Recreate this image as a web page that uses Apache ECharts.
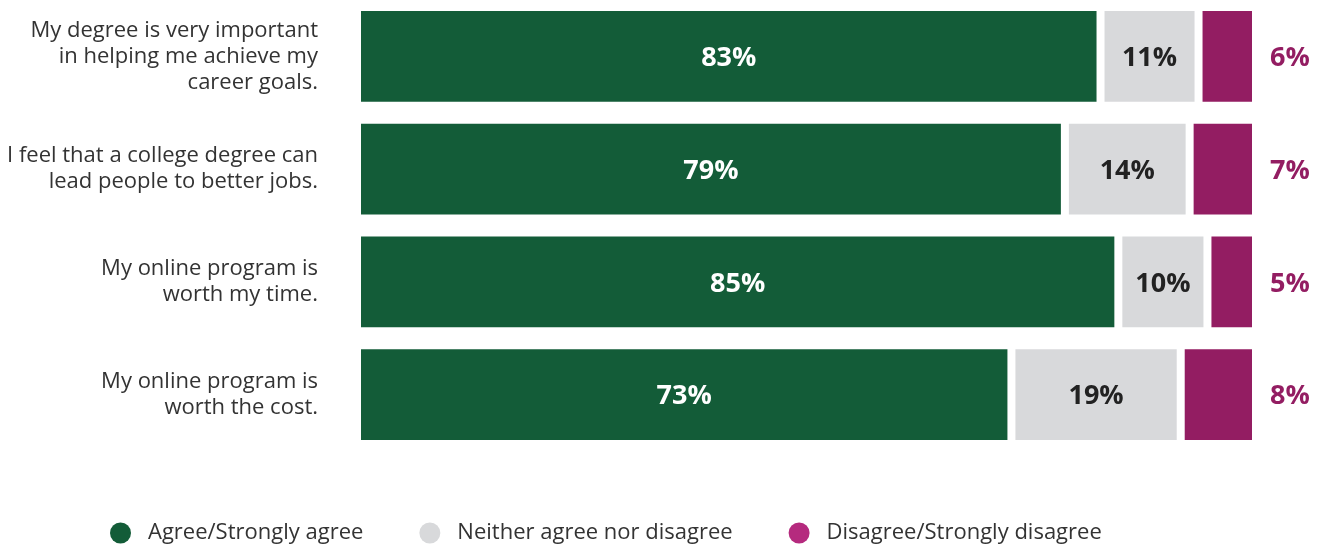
<!DOCTYPE html>
<html>
<head>
<meta charset="utf-8">
<title>Degree value survey</title>
<script src="https://cdn.jsdelivr.net/npm/echarts@6/dist/echarts.min.js"></script>
<style>
  html, body { margin: 0; padding: 0; background: #ffffff; }
  #chart { width: 1326px; height: 544px; }
</style>
</head>
<body>
<div id="chart"></div>
<script>
// Survey statements (top to bottom)
const categories = [
  'My degree is very important\nin helping me achieve my\ncareer goals.',
  'I feel that a college degree can\nlead people to better jobs.',
  'My online program is\nworth my time.',
  'My online program is\nworth the cost.'
];

// Response shares, percent
const agree = [83, 79, 85, 73];
const neither = [11, 14, 10, 19];
const disagree = [6, 7, 5, 8];

const seriesNames = ['Agree/Strongly agree', 'Neither agree nor disagree', 'Disagree/Strongly disagree'];

const barColors = ['#135c38', '#d8d9db', '#931d62'];
const legendColors = ['#135c38', '#d8d9db', '#b52a7e'];
const labelColors = ['#ffffff', '#222222', '#931d62'];

const FONT = '"Open Sans", "Noto Sans", sans-serif';
const GAP = 8;

const groups = [agree, neither, disagree];
// running start of each segment along the stack
const bases = groups.map((g, s) =>
  g.map((_, i) => groups.slice(0, s).reduce((acc, arr) => acc + arr[i], 0))
);

function makeSeries(s) {
  return {
    type: 'custom',
    name: seriesNames[s],
    itemStyle: { color: barColors[s] },
    encode: { x: [0, 1], y: 2 },
    data: groups[s].map((v, i) => [bases[s][i], v, i]),
    renderItem: function (params, api) {
      const base = api.value(0);
      const v = api.value(1);
      const ci = api.value(2);
      const p0 = api.coord([base, ci]);
      const p1 = api.coord([base + v, ci]);
      const band = api.size([0, 1])[1];
      const h = band * 91 / 113;
      const x0 = p0[0] + (s > 0 ? GAP / 2 : 0);
      const x1 = p1[0] - (s < groups.length - 1 ? GAP / 2 : 0);
      const y0 = p0[1] - h / 2;
      const outside = s === groups.length - 1;
      return {
        type: 'group',
        children: [
          {
            type: 'rect',
            shape: { x: x0, y: y0, width: x1 - x0, height: h },
            style: { fill: barColors[s] }
          },
          {
            type: 'text',
            style: {
              text: v + '%',
              x: outside ? p1[0] + 18 : (x0 + x1) / 2,
              y: p0[1] + 2,
              align: outside ? 'left' : 'center',
              verticalAlign: 'middle',
              fill: labelColors[s],
              font: 'bold 27px ' + FONT
            }
          }
        ]
      };
    }
  };
}

const chart = echarts.init(document.getElementById('chart'), null, { renderer: 'canvas' });

chart.setOption({
  animation: false,
  textStyle: { fontFamily: FONT },
  grid: { left: 361, right: 74, top: -1, height: 452, containLabel: false },
  xAxis: {
    type: 'value', min: 0, max: 100,
    show: false
  },
  yAxis: {
    type: 'category',
    data: categories,
    inverse: true,
    axisLine: { show: false },
    axisTick: { show: false },
    splitLine: { show: false },
    axisLabel: {
      margin: 43,
      align: 'right',
      fontSize: 22,
      lineHeight: 26,
      padding: [5, 0, 0, 0],
      color: '#333333',
      fontFamily: FONT
    }
  },
  legend: {
    left: 110,
    top: 522,
    padding: 0,
    icon: 'circle',
    itemWidth: 21,
    itemHeight: 21,
    itemGap: 56,
    textStyle: {
      fontSize: 22,
      color: '#333333',
      fontFamily: FONT,
      padding: [0, 0, 0, 12]
    },
    data: seriesNames.map((n, i) => ({ name: n, itemStyle: { color: legendColors[i] } }))
  },
  series: [0, 1, 2].map(makeSeries)
});
</script>
</body>
</html>
